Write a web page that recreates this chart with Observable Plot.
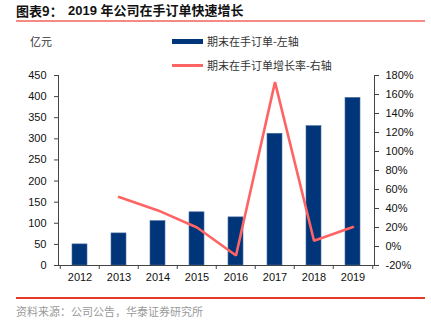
<!DOCTYPE html>
<html>
<head>
<meta charset="utf-8">
<script src="https://cdn.jsdelivr.net/npm/d3@7"></script>
<script src="https://cdn.jsdelivr.net/npm/@observablehq/plot@0.6"></script>
<style>
  html, body { margin: 0; padding: 0; background: #fff; }
  #wrap { position: relative; width: 431px; height: 325px; overflow: hidden; background: #fff; }
  #wrap svg { position: absolute; left: 0; top: 0; }
  .t { position: absolute; white-space: nowrap; font-family: "Noto Sans CJK SC", sans-serif; line-height: 1; }
</style>
</head>
<body>
<div id="wrap">
  <div class="t" style="left:16px; top:4px; font-size:13px; font-weight:bold; color:#111;">图表9：</div>
  <div class="t" style="left:68px; top:4px; font-size:13px; font-weight:bold; color:#111; font-family:'Liberation Sans','Noto Sans CJK SC',sans-serif;">2019 年公司在手订单快速增长</div>
  <div style="position:absolute; left:16px; top:20px; width:409px; height:1.5px; background:#f38b84;"></div>
  <div class="t" style="left:30px; top:36px; font-size:11px; color:#333;">亿元</div>
  <div style="position:absolute; left:172px; top:39px; width:31px; height:5px; background:#00357a;"></div>
  <div class="t" style="left:207px; top:36px; font-size:11px; color:#333;">期末在手订单-左轴</div>
  <div style="position:absolute; left:172px; top:64px; width:31px; height:3px; background:#ff6464;"></div>
  <div class="t" style="left:207px; top:60px; font-size:11px; color:#333;">期末在手订单增长率-右轴</div>
  <div style="position:absolute; left:16px; top:297px; width:409px; height:1.5px; background:#e5392e;"></div>
  <div class="t" style="left:16px; top:306px; font-size:11px; color:#9a9a9a;">资料来源：公司公告，华泰证券研究所</div>
</div>
<script>
const years = ["2012", "2013", "2014", "2015", "2016", "2017", "2018", "2019"];
const orders = [50, 76, 105, 126, 114, 312, 330, 397];          // 亿元, left axis
const growth = [null, 52, 38, 20, -9.5, 173, 6, 20.5];           // %, right axis
const leftTicks = [0, 50, 100, 150, 200, 250, 300, 350, 400, 450];
const rightTicks = [-20, 0, 20, 40, 60, 80, 100, 120, 140, 160, 180];

const W = 431, H = 325, ML = 58, MR = 57, MT = 75, MB = 60;
const step = (W - ML - MR) / years.length;
// right axis (-20%..180%) maps onto left axis (0..450)
const toLeft = p => (p + 20) * 450 / 200;
const fromLeft = v => v * 200 / 450 - 20;

const rows = years.map((y, i) => ({year: y, orders: orders[i], growth: growth[i]}));
const lineRows = rows.filter(d => d.growth != null);

const axisColor = "#444";
const chart = Plot.plot({
  width: W, height: H,
  marginLeft: ML, marginRight: MR, marginTop: MT, marginBottom: MB,
  style: {fontFamily: "'Liberation Sans', Arial, sans-serif", fontSize: "11px", color: "#111", background: "transparent", overflow: "visible"},
  x: {type: "band", domain: years, paddingInner: 0.61, paddingOuter: 0.305, axis: null},
  y: {domain: [0, 450], axis: null},
  marks: [
    Plot.barY(rows, {x: "year", y: "orders", fill: "#00357a", stroke: "#4a6fa0", strokeWidth: 0.6}),
    Plot.lineY(lineRows, {x: "year", y: d => toLeft(d.growth), stroke: "#ff6464", strokeWidth: 2.6, strokeLinejoin: "miter"}),
    Plot.ruleY([0], {stroke: axisColor}),
    Plot.frame({anchor: "left", stroke: axisColor}),
    Plot.frame({anchor: "right", stroke: axisColor}),
    Plot.axisY({anchor: "left", ticks: leftTicks, tickSize: 4, tickPadding: 8, tickFormat: d => String(d), label: null, stroke: axisColor}),
    Plot.axisY({anchor: "right", ticks: rightTicks.map(toLeft), tickSize: 4, tickPadding: 7, tickFormat: v => Math.round(fromLeft(v)) + "%", label: null, stroke: axisColor}),
    Plot.axisX({tickSize: 0, tickPadding: 8, label: null}),
    Plot.ruleX(years, {x: d => d, y1: 0, y2: 0, dx: -step / 2, insetBottom: -4, stroke: axisColor}),
    Plot.ruleX([years[years.length - 1]], {x: d => d, y1: 0, y2: 0, dx: step / 2, insetBottom: -4, stroke: axisColor})
  ]
});
document.getElementById("wrap").prepend(chart);
</script>
</body>
</html>
